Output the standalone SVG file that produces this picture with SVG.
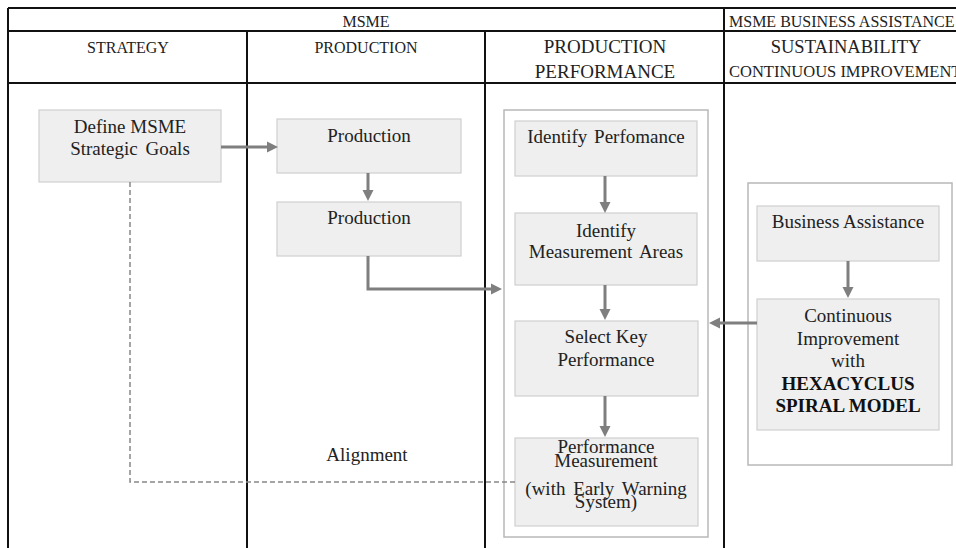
<svg xmlns="http://www.w3.org/2000/svg" width="956" height="548" viewBox="0 0 956 548" font-family="'Liberation Serif', Tinos, 'Times New Roman', 'DejaVu Serif', serif">
<style>
.grid{stroke:#111;stroke-width:2;fill:none}
.hd{font-family:'Liberation Serif',Tinos,'Times New Roman','DejaVu Serif',serif;fill:#222;text-anchor:middle}
.hs{text-anchor:start}
.box{fill:#efefef;stroke:#cfcfcf;stroke-width:1.2}
.cont{fill:#fff;stroke:#b8b8b8;stroke-width:1.5}
.t{font-family:'Liberation Serif',Tinos,'Times New Roman','DejaVu Serif',serif;font-size:19px;fill:#222;text-anchor:middle}
.b{font-weight:bold;fill:#111}
.arr{stroke:#7f7f7f;stroke-width:3;fill:none;marker-end:url(#ah)}
.dash{stroke:#888;stroke-width:1.5;fill:none;stroke-dasharray:5,3}
</style>
<defs>
<marker id="ah" markerUnits="userSpaceOnUse" markerWidth="12" markerHeight="12" viewBox="0 0 12 12" refX="5" refY="6" orient="auto">
<path d="M0,0.5 L11,6 L0,11.5 z" fill="#7f7f7f"/>
</marker>
</defs>
<rect width="956" height="548" fill="#fff"/>
<g id="table">
<path class="grid" d="M8,8 H956 M8,31 H956 M8,83 H956 M8,8 V548 M247,31 V548 M485,31 V548 M724,8 V548"/>
<text class="hd" x="366" y="27" font-size="16">MSME</text>
<text class="hd hs" x="729" y="27" font-size="16">MSME BUSINESS ASSISTANCE</text>
<text class="hd" x="128" y="53" font-size="16">STRATEGY</text>
<text class="hd" x="366" y="53" font-size="16">PRODUCTION</text>
<text class="hd" x="605" y="53" font-size="19">PRODUCTION</text>
<text class="hd" x="605" y="78" font-size="19">PERFORMANCE</text>
<text class="hd" x="846" y="53" font-size="18.5">SUSTAINABILITY</text>
<text class="hd hs" x="729" y="77" font-size="16.5">CONTINUOUS IMPROVEMENT</text>
</g>
<g id="perf-container"><rect class="cont" x="504" y="110" width="204" height="427"/></g>
<g id="ba-container"><rect class="cont" x="748" y="183" width="204" height="282"/></g>
<g id="define-goals">
<rect class="box" x="39" y="110" width="182" height="72"/>
<text class="t" x="130" y="133">Define MSME</text>
<text class="t" x="130" y="155" word-spacing="3">Strategic Goals</text>
</g>
<g id="production-1">
<rect class="box" x="277" y="119" width="184" height="54"/>
<text class="t" x="369" y="142">Production</text>
</g>
<g id="production-2">
<rect class="box" x="277" y="202" width="184" height="54"/>
<text class="t" x="369" y="224">Production</text>
</g>
<g id="alignment"><text class="t" x="367" y="461">Alignment</text></g>
<g id="identify-performance">
<rect class="box" x="515" y="121" width="182" height="55"/>
<text class="t" x="606" y="143" word-spacing="2">Identify Perfomance</text>
</g>
<g id="identify-areas">
<rect class="box" x="515" y="213" width="182" height="72"/>
<text class="t" x="606" y="237">Identify</text>
<text class="t" x="606" y="258" word-spacing="3">Measurement Areas</text>
</g>
<g id="select-kpi">
<rect class="box" x="515" y="321" width="183" height="75"/>
<text class="t" x="606" y="343">Select Key</text>
<text class="t" x="606" y="366">Performance</text>
</g>
<g id="performance-measurement">
<rect class="box" x="515" y="438" width="183" height="88"/>
<text class="t" x="606" y="453">Performance</text>
<text class="t" x="606" y="467">Measurement</text>
<text class="t" x="606" y="495" word-spacing="3">(with Early Warning</text>
<text class="t" x="606" y="508">System)</text>
</g>
<g id="business-assistance">
<rect class="box" x="757" y="206" width="182" height="55"/>
<text class="t" x="848" y="228">Business Assistance</text>
</g>
<g id="continuous-improvement">
<rect class="box" x="757" y="299" width="182" height="131"/>
<text class="t" x="848" y="322">Continuous</text>
<text class="t" x="848" y="345">Improvement</text>
<text class="t" x="848" y="367">with</text>
<text class="t b" x="848" y="390">HEXACYCLUS</text>
<text class="t b" x="848" y="412">SPIRAL MODEL</text>
</g>
<g id="connectors">
<path class="arr" d="M221,147 H272"/>
<path class="arr" d="M368,173 V195"/>
<path class="arr" d="M368,256 V289 H496"/>
<path class="arr" d="M605,176 V207"/>
<path class="arr" d="M605,285 V314"/>
<path class="arr" d="M605,396 V431"/>
<path class="arr" d="M848,261 V292"/>
<path class="arr" d="M757,323 H715"/>
<path class="dash" d="M130,182 V482 H515"/>
</g>
</svg>
